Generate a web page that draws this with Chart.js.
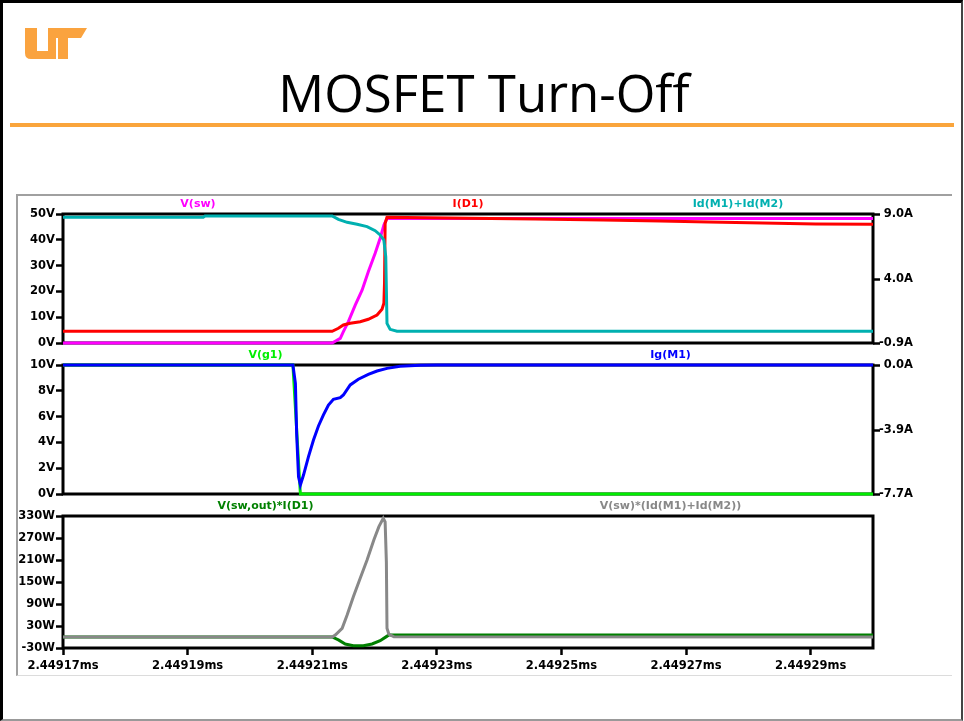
<!DOCTYPE html>
<html>
<head>
<meta charset="utf-8">
<title>MOSFET Turn-Off</title>
<script src="https://cdn.jsdelivr.net/npm/chart.js@4.4.1/dist/chart.umd.min.js"></script>
<style>
  body { margin: 0; width: 964px; height: 721px; background: #fff; position: relative; overflow: hidden; }
  .slide { position: absolute; left: 0; top: 0; width: 958px; height: 716px; border-top: 3px solid #000; border-left: 3px solid #000; border-right: 2px solid #444; border-bottom: 2px solid #999; }
  .title { position: absolute; left: 0; top: 67px; width: 968px; text-align: center; font: 51px/51px "Open Sans", sans-serif; color: #000; }
  .rule { position: absolute; left: 10px; top: 123px; width: 944px; height: 4px; background: #faa53c; }
  .window { position: absolute; left: 16px; top: 194px; width: 934px; height: 479px; border-top: 2px solid #a0a0a0; border-left: 2px solid #a0a0a0; border-bottom: 1px solid #dcdcdc; }
  .logo { position: absolute; left: 0; top: 0; }
  canvas { position: absolute; left: 17px; }
</style>
</head>
<body>
<div class="slide"></div>
<svg class="logo" width="100" height="70">
  <path fill="#faa33f" d="M25 28 H37 V51 H48 V38 H56 V59 H31 Q25 59 25 53 Z" />
  <path fill="#faa33f" d="M48 28 H87 L81 38 H68 V59 H58 V38 H48 Z" />
</svg>
<div class="title">MOSFET Turn-Off</div>
<div class="rule"></div>
<div class="window"></div>
<canvas id="pane1" width="935" height="157" style="top:194px"></canvas>
<canvas id="pane2" width="935" height="157" style="top:345px"></canvas>
<canvas id="pane3" width="935" height="184" style="top:496px"></canvas>
<script>
"use strict";

// time in ns after 2.44917ms
const timeTicks = [0, 20, 40, 60, 80, 100, 120];
const timeLabels = ["2.44917ms", "2.44919ms", "2.44921ms", "2.44923ms", "2.44925ms", "2.44927ms", "2.44929ms"];

// pane 1 : V(sw), I(D1), Id(M1)+Id(M2)
const vswTime = [0, 43.2, 44.5, 45.0, 45.8, 46.9, 48.0, 49.0, 50.1, 50.9, 51.5, 52.0, 130];
const vswVolts = [0, 0, 1.8, 4.4, 8.3, 14.7, 20.5, 27.6, 34.8, 40.6, 45.7, 48.3, 48.3];

const id1Time = [0, 43.2, 44.2, 45.0, 46.1, 47.7, 49.0, 50.4, 51.2, 51.5, 51.6, 51.7, 52.0, 65.1, 75.8, 86.7, 95.9, 103.6, 112.3, 120.8, 130];
const id1Amps = [0, 0, 0.23, 0.48, 0.61, 0.73, 0.92, 1.25, 1.69, 2.15, 3.68, 8.29, 8.75, 8.67, 8.62, 8.54, 8.46, 8.39, 8.31, 8.23, 8.21];

const idmTime = [0, 22.5, 22.8, 43.2, 44.2, 45.6, 47.2, 48.8, 50.1, 50.9, 51.5, 51.8, 51.9, 52.0, 52.5, 53.6, 130];
const idmAmps = [8.75, 8.75, 8.85, 8.85, 8.59, 8.36, 8.21, 8.03, 7.72, 7.39, 7.0, 5.72, 3.17, 0.61, 0.15, 0, 0];

const amp1Ticks = [-0.9, 4.0, 9.0];

// pane 2 : V(g1), Ig(M1)
const vg1Time = [0, 36.9, 38.1, 130];
const vg1Volts = [10, 10, 0, 0];

const igTime = [0, 36.9, 37.3, 37.5, 37.8, 38.1, 38.6, 39.4, 40.2, 41.0, 41.8, 42.6, 43.4, 44.5, 45.0, 46.1, 47.4, 49.0, 50.4, 52.0, 54.1, 57.3, 60.0, 130];
const igAmps = [0, 0, -1.09, -4.08, -6.67, -7.16, -6.57, -5.47, -4.48, -3.64, -2.98, -2.39, -2.05, -1.95, -1.79, -1.19, -0.85, -0.56, -0.36, -0.2, -0.08, -0.02, 0, 0];

const amp2Ticks = [-7.7, -3.9, 0.0];

// pane 3 : V(sw,out)*I(D1), V(sw)*(Id(M1)+Id(M2))
const pd1Time = [0, 43.2, 44.2, 45.3, 46.6, 48.2, 49.6, 50.9, 51.9, 52.3, 130];
const pd1Watts = [0, 0, -8, -19, -23.6, -23.6, -19, -10, 1, 5.5, 5.5];

const pswTime = [0, 43.2, 43.7, 44.8, 45.6, 46.6, 47.7, 48.8, 49.9, 50.7, 51.4, 51.7, 51.9, 52.0, 52.3, 53.1, 130];
const pswWatts = [0, 0, 5.5, 23.7, 60, 110, 160, 210, 265, 301, 324, 314, 205, 24, 7.5, 1, 0];

const tickFont = { family: "'DejaVu Sans', sans-serif", size: 11.5, weight: "bold" };

function series(times, values) {
  return times.map(function (t, i) {
    return { x: t, y: values[i] };
  });
}

function trace(label, color, times, values, axis) {
  return {
    label: label,
    data: series(times, values),
    borderColor: color,
    yAxisID: axis || "y",
    clip: 6,
  };
}

// black box round each pane, under the traces
const framePlugin = {
  id: "frame",
  beforeDatasetsDraw(chart) {
    const ctx = chart.ctx;
    const a = chart.chartArea;
    ctx.save();
    ctx.strokeStyle = "#000";
    ctx.lineWidth = 3;
    ctx.strokeRect(a.left, a.top, a.right - a.left, a.bottom - a.top);
    ctx.restore();
  },
};

// trace names above each pane
function labelPlugin(items) {
  return {
    id: "traceLabels",
    afterDraw(chart) {
      const ctx = chart.ctx;
      const a = chart.chartArea;
      ctx.save();
      ctx.font = "bold 11px 'DejaVu Sans', sans-serif";
      ctx.textAlign = "center";
      ctx.textBaseline = "middle";
      items.forEach(function (item) {
        ctx.fillStyle = item.color;
        ctx.fillText(item.text, a.left + (a.right - a.left) * item.at, a.top - 10);
      });
      ctx.restore();
    },
  };
}

const tickGrid = { drawOnChartArea: false, tickLength: 7, tickColor: "#000", tickWidth: 2.5 };

function leftAxis(min, max, step, unit) {
  return {
    position: "left",
    min: min,
    max: max,
    afterFit: function (s) { s.width = 46; },
    grid: tickGrid,
    border: { display: false },
    ticks: {
      stepSize: step,
      font: tickFont,
      color: "#000",
      padding: 1,
      callback: function (v) { return v + unit; },
    },
  };
}

function rightAxis(min, max, values) {
  return {
    position: "right",
    min: min,
    max: max,
    afterBuildTicks: function (s) {
      s.ticks = values.map(function (v) { return { value: v }; });
    },
    afterFit: function (s) { s.width = 40; },
    grid: tickGrid,
    border: { display: false },
    ticks: {
      font: tickFont,
      color: "#000",
      padding: 1,
      crossAlign: "far",
      callback: function (v) { return v.toFixed(1) + "A"; },
    },
  };
}

const hiddenTime = { type: "linear", min: 0, max: 130, display: false };

const shownTime = {
  type: "linear",
  min: 0,
  max: 130,
  afterBuildTicks: function (s) {
    s.ticks = timeTicks.map(function (v) { return { value: v }; });
  },
  afterFit: function (s) { s.height = 32; },
  grid: tickGrid,
  border: { display: false },
  ticks: {
    font: tickFont,
    color: "#000",
    padding: 4,
    maxRotation: 0,
    autoSkip: false,
    callback: function (v, i) { return timeLabels[i]; },
  },
};

function makePane(id, datasets, scales, padding, labels) {
  return new Chart(document.getElementById(id), {
    type: "line",
    data: { datasets: datasets },
    options: {
      responsive: false,
      animation: false,
      devicePixelRatio: 1,
      layout: { padding: padding },
      elements: {
        point: { radius: 0 },
        line: { tension: 0, borderWidth: 3 },
      },
      plugins: {
        legend: { display: false },
        tooltip: { enabled: false },
      },
      scales: scales,
    },
    plugins: [framePlugin, labelPlugin(labels)],
  });
}

makePane(
  "pane1",
  [
    trace("Id(M1)+Id(M2)", "#00b0b0", idmTime, idmAmps, "y1"),
    trace("I(D1)", "#ff0000", id1Time, id1Amps, "y1"),
    trace("V(sw)", "#ff00ff", vswTime, vswVolts),
  ],
  { x: hiddenTime, y: leftAxis(0, 50, 10, "V"), y1: rightAxis(-0.9, 9.0, amp1Ticks) },
  { top: 20, bottom: 8, left: 0, right: 39 },
  [
    { text: "V(sw)", color: "#ff00ff", at: 1 / 6 },
    { text: "I(D1)", color: "#ff0000", at: 1 / 2 },
    { text: "Id(M1)+Id(M2)", color: "#00b0b0", at: 5 / 6 },
  ]
);

makePane(
  "pane2",
  [
    trace("Ig(M1)", "#0000ff", igTime, igAmps, "y1"),
    trace("V(g1)", "#00ee00", vg1Time, vg1Volts),
  ],
  { x: hiddenTime, y: leftAxis(0, 10, 2, "V"), y1: rightAxis(-7.7, 0.0, amp2Ticks) },
  { top: 20, bottom: 8, left: 0, right: 39 },
  [
    { text: "V(g1)", color: "#00ee00", at: 1 / 4 },
    { text: "Ig(M1)", color: "#0000ff", at: 3 / 4 },
  ]
);

makePane(
  "pane3",
  [
    trace("V(sw)*(Id(M1)+Id(M2))", "#888888", pswTime, pswWatts),
    trace("V(sw,out)*I(D1)", "#008000", pd1Time, pd1Watts),
  ],
  { x: shownTime, y: leftAxis(-30, 330, 60, "W") },
  { top: 20, bottom: 0, left: 0, right: 79 },
  [
    { text: "V(sw,out)*I(D1)", color: "#008000", at: 1 / 4 },
    { text: "V(sw)*(Id(M1)+Id(M2))", color: "#888888", at: 3 / 4 },
  ]
);
</script>
</body>
</html>
